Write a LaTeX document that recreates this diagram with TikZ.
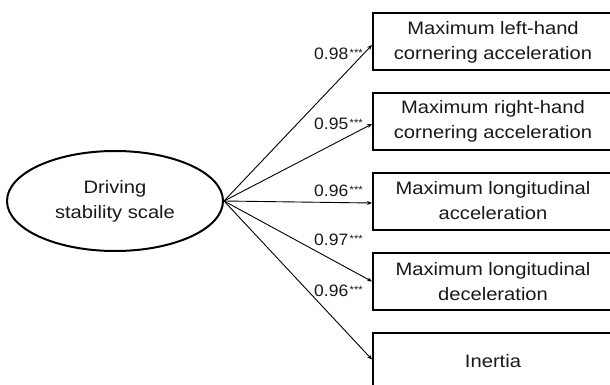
\documentclass[tikz,border=0pt]{standalone}
\usepackage{fontspec}
\setmainfont{Liberation Sans}[FakeStretch=1.12]
\newfontfamily\labfont{Liberation Sans}[FakeStretch=1.06]
\usetikzlibrary{shapes.geometric,arrows.meta}
\newcommand{\sigstars}{\hspace{1.5pt}\raisebox{3pt}{\fontsize{10.5}{10}\selectfont ***}}
\begin{document}
\begin{tikzpicture}[x=1pt,y=-1pt,
  itembox/.style={draw,line width=2pt,minimum width=240pt,minimum height=57pt,inner sep=0pt,align=center,text=black!90,font=\fontsize{18}{25}\selectfont},
  latent/.style={ellipse,draw,line width=2pt,minimum width=216pt,minimum height=100pt,inner sep=0pt,align=center,text=black!90,font=\fontsize{18}{25}\selectfont},
  loading/.style={line width=0.9pt,-{Stealth[length=5pt,width=4pt]}},
  coef/.style={anchor=base west,inner sep=0pt,text=black!90,font=\labfont\fontsize{16.5}{18}\selectfont}]
\clip (0,0) rectangle (610,385);
\node[latent] (e) at (115,201) {Driving\\stability scale};
\node[itembox] (b1) at (493,42) {Maximum left-hand\\cornering acceleration};
\node[itembox] (b2) at (493,121.5) {Maximum right-hand\\cornering acceleration};
\node[itembox] (b3) at (493,201) {Maximum longitudinal\\acceleration};
\node[itembox] (b4) at (493,281.5) {Maximum longitudinal\\deceleration};
\node[itembox] (b5) at (493,361.5) {Inertia};
\draw[loading] (e.east) -- ([yshift=-3pt]b1.west);
\draw[loading] (e.east) -- ([yshift=-2.5pt]b2.west);
\draw[loading] (e.east) -- ([yshift=-2pt]b3.west);
\draw[loading] (e.east) -- (b4.west);
\draw[loading] (e.east) -- ([yshift=2pt]b5.west);
\node[coef] (l1) at (314,59.9) {0.98\sigstars};
\node[coef] (l2) at (314,129.9) {0.95\sigstars};
\node[coef] (l3) at (314,196.4) {0.96\sigstars};
\node[coef] (l4) at (314,245.9) {0.97\sigstars};
\node[coef] (l5) at (314,296.9) {0.96\sigstars};
\end{tikzpicture}
\end{document}
